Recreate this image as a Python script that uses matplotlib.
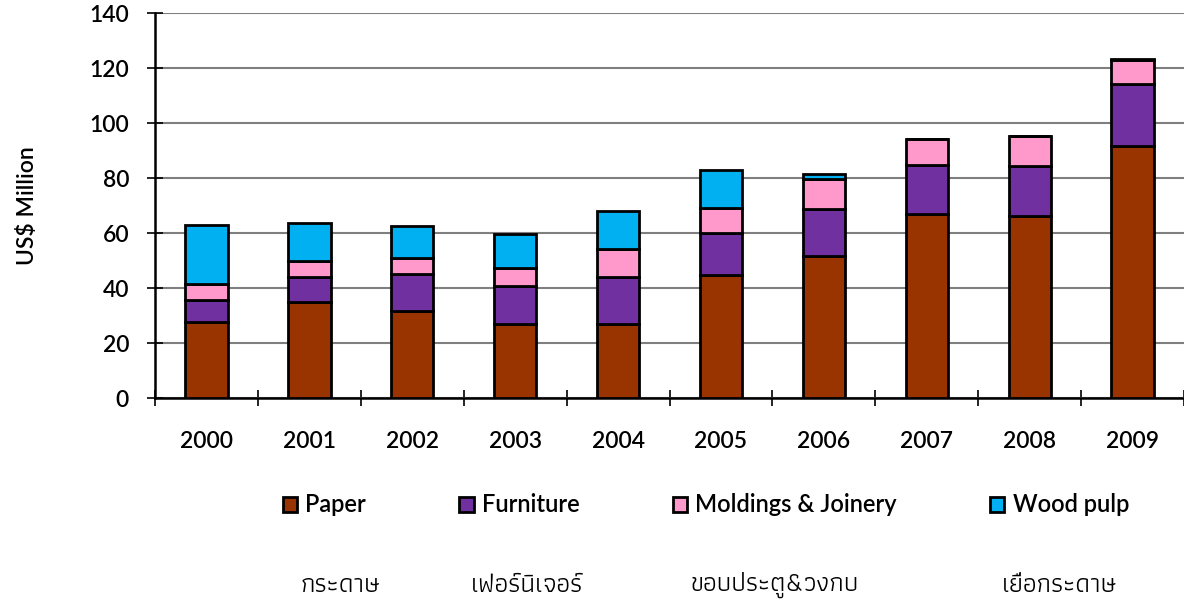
import numpy as np
import matplotlib
matplotlib.use("Agg")
from matplotlib import pyplot as plt

years = ['2000', '2001', '2002', '2003', '2004', '2005', '2006', '2007', '2008', '2009']
paper = [27.6, 34.8, 31.6, 26.9, 27.1, 44.7, 51.6, 66.9, 66.1, 91.6]
furniture = [8.1, 9.4, 13.6, 13.9, 16.9, 15.4, 17.2, 17.9, 18.3, 22.8]
moldings = [5.8, 5.6, 5.8, 6.6, 10.2, 9.1, 10.8, 9.4, 10.9, 8.5]
wood_pulp = [21.3, 13.8, 11.5, 12.2, 13.9, 13.8, 2.1, 0.0, 0.0, 0.6]
series_names = ['Paper', 'Furniture', 'Moldings & Joinery', 'Wood pulp']
thai_names = ['กระดาษ', 'เฟอร์นิเจอร์', 'ขอบประตู&วงกบ', 'เยื่อกระดาษ']
colors = ['#993300', '#7030A0', '#FF99CC', '#00B0F0']

plt.rcParams['font.family'] = ['Lato', 'DejaVu Sans']
plt.rcParams['font.weight'] = 'semibold'

fig = plt.figure(figsize=(11.84, 6.04), dpi=100)
ax = fig.add_axes([0.131, 0.341, 0.869, 0.637])

x = np.arange(len(years))
bottom = np.zeros(len(years))
for name, vals, c in zip(series_names, [paper, furniture, moldings, wood_pulp], colors):
    ax.bar(x, vals, 0.41, bottom=bottom, color=c, edgecolor='black', linewidth=2, label=name, zorder=3)
    bottom += np.array(vals)

ax.set_xlim(-0.5, len(years) - 0.5)
ax.set_ylim(0, 140)
ax.set_yticks(range(0, 141, 20))
ax.yaxis.grid(True, color='#7f7f7f', linewidth=1.5, zorder=0)
ax.spines['top'].set_visible(False)
ax.spines['right'].set_visible(False)
ax.spines['left'].set_linewidth(1.8)
ax.spines['bottom'].set_linewidth(1.8)

ax.set_xticks(x)
ax.set_xticklabels(years, fontsize=16.5, fontweight='semibold')
ax.tick_params(axis='x', length=0, pad=24)
ax.set_xticks(np.arange(-0.5, len(years)), minor=True)
ax.tick_params(axis='x', which='minor', direction='inout', length=12, width=1.2)
ax.tick_params(axis='y', direction='inout', length=11.5, width=1.2, labelsize=16.5, pad=13)
for lab in ax.get_yticklabels():
    lab.set_fontweight('semibold')
ax.set_ylabel('US$ Million', fontsize=16.5, fontweight='semibold', labelpad=37)

fig.legend(loc='center', bbox_to_anchor=(706 / 1184, 1 - 505 / 604), ncol=4, frameon=False,
           fontsize=17, handlelength=0.6, handleheight=0.6, handletextpad=0.35, columnspacing=3.95,
           borderaxespad=0)

for name, xpos in zip(thai_names, [340, 527, 775, 1060]):
    fig.text(xpos / 1184, 1 - 585 / 604, name, ha='center', va='center', fontsize=19,
             fontweight='normal', family=['Athiti', 'DejaVu Sans'])

fig.savefig('out.png', dpi=100)
